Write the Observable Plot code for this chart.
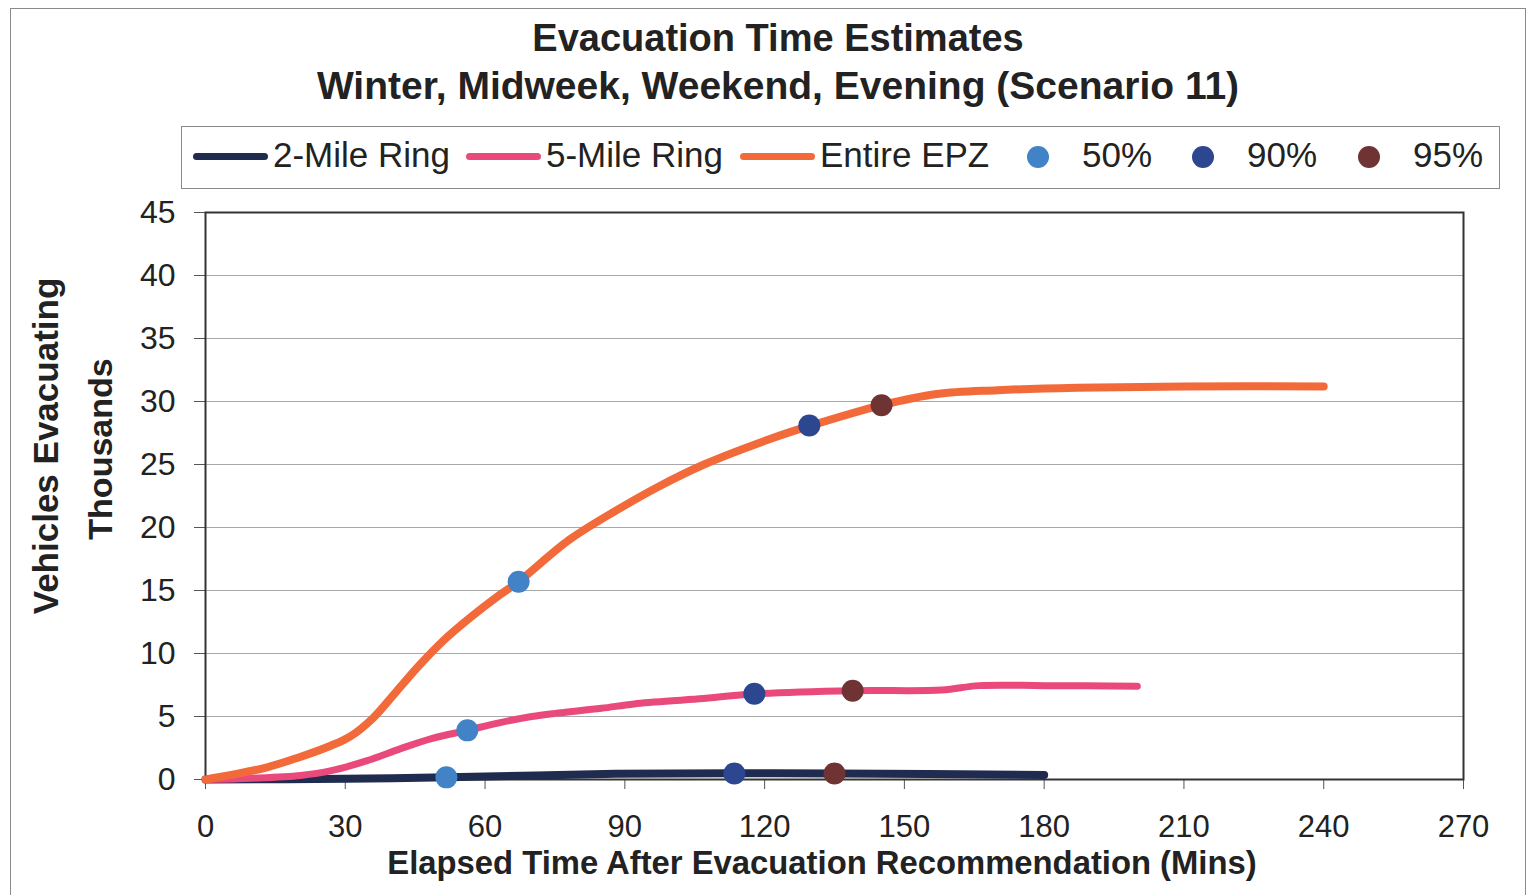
<!DOCTYPE html>
<html>
<head>
<meta charset="utf-8">
<script src="https://cdn.jsdelivr.net/npm/d3@7"></script>
<script src="https://cdn.jsdelivr.net/npm/@observablehq/plot@0.6"></script>
<style>
  html, body { margin: 0; padding: 0; background: #fff; }
  #wrap { position: relative; width: 1530px; height: 895px; overflow: hidden; font-family: "Liberation Sans", Arial, sans-serif; color: #222; }
  #outer { position: absolute; left: 10px; top: 8px; width: 1516px; height: 900px; border: 1px solid #8a8a8a; box-sizing: border-box; }
  #chart { position: absolute; left: 0; top: 0; }
  .title { position: absolute; left: 0; width: 1556px; text-align: center; font-weight: bold; color: #222; white-space: nowrap; }
  #legend { position: absolute; left: 181px; top: 126px; width: 1319px; height: 63px; border: 1px solid #8a8a8a; box-sizing: border-box; background: #fff; }
  .li { position: absolute; top: -3px; height: 61px; display: flex; align-items: center; font-size: 35px; color: #222; white-space: nowrap; }
  .sw { display: inline-block; width: 75px; height: 7px; border-radius: 4px; margin-right: 5px; margin-top: 4px; }
  .dot { display: inline-block; width: 22px; height: 22px; border-radius: 50%; margin-top: 4px; }
  .ylab { position: absolute; font-weight: bold; white-space: nowrap; transform: translate(-50%, -50%) rotate(-90deg); color: #222; }
  #xlab { position: absolute; left: 822px; top: 863px; transform: translate(-50%, -50%); font-weight: bold; font-size: 32.8px; white-space: nowrap; color: #222; }
</style>
</head>
<body>
<div id="wrap">
  <div id="outer"></div>
  <div id="chart"></div>
  <div class="title" style="top:17px; font-size:38px">Evacuation Time Estimates</div>
  <div class="title" style="top:64px; font-size:39px">Winter, Midweek, Weekend, Evening (Scenario 11)</div>
  <div id="legend"></div>
  <div class="ylab" style="left:46px; top:446px; font-size:35px">Vehicles Evacuating</div>
  <div class="ylab" style="left:100px; top:449px; font-size:34px">Thousands</div>
  <div id="xlab">Elapsed Time After Evacuation Recommendation (Mins)</div>
</div>
<script>
// ---- Data (minutes after recommendation, thousands of vehicles) ----
const timeRing2 = [0, 30, 52, 88, 113.5, 135, 180];
const vehRing2  = [0, 0.05, 0.17, 0.45, 0.5, 0.48, 0.35];

const timeRing5 = [0, 10, 20.4, 27, 34.7, 41.9, 48.5, 56.2, 63, 70, 75, 85, 92, 106, 118, 139, 158, 166, 180, 200];
const vehRing5  = [0, 0.1, 0.32, 0.7, 1.5, 2.45, 3.25, 3.9, 4.5, 5.0, 5.25, 5.65, 6.0, 6.4, 6.8, 7.05, 7.1, 7.45, 7.45, 7.4];

const timeEPZ = [0, 13, 20, 27, 31, 36, 41, 46, 51, 57, 62.6, 67.2, 78, 87, 97, 107, 121, 130, 145, 157, 170, 187, 210, 240];
const vehEPZ  = [0, 0.95, 1.75, 2.7, 3.4, 4.9, 7.0, 9.1, 11.0, 12.9, 14.5, 15.7, 19.0, 21.1, 23.2, 25.0, 27.0, 28.1, 29.7, 30.6, 30.9, 31.1, 31.2, 31.2];

const time50 = [51.7, 56.2, 67.2];
const veh50  = [0.17, 3.9, 15.7];
const time90 = [113.5, 117.8, 129.6];
const veh90  = [0.48, 6.8, 28.1];
const time95 = [135, 138.9, 145.1];
const veh95  = [0.48, 7.05, 29.7];

const xTicks = [0, 30, 60, 90, 120, 150, 180, 210, 240, 270];
const yTicks = [0, 5, 10, 15, 20, 25, 30, 35, 40, 45];

const seriesNames = ["2-Mile Ring", "5-Mile Ring", "Entire EPZ"];
const seriesColors = ["#1f2b4f", "#ea4a7b", "#f36a3a"];
const markerNames = ["50%", "90%", "95%"];
const markerColors = ["#4282c6", "#2c4690", "#6f3333"];

const pts = (ts, vs) => ts.map((t, i) => ({t, v: vs[i]}));

const lineOpts = (color, w) => ({x: "t", y: "v", stroke: color, strokeWidth: w, curve: "catmull-rom", strokeLinecap: "round", strokeLinejoin: "round"});

const chart = Plot.plot({
  width: 1530,
  height: 895,
  marginLeft: 205,
  marginRight: 67,
  marginTop: 212,
  marginBottom: 116,
  style: {fontFamily: "'Liberation Sans', Arial, sans-serif", fontSize: "32px", color: "#222", background: "transparent"},
  x: {domain: [0, 270], ticks: xTicks, label: null},
  y: {domain: [0, 45], ticks: yTicks, label: null},
  marks: [
    Plot.gridY(yTicks, {stroke: "#a8a8a8", strokeOpacity: 1, strokeWidth: 1}),
    Plot.axisY(yTicks, {tickSize: 11, tickPadding: 19, stroke: "#555", fill: "#222", fontSize: 32}),
    Plot.axisX(xTicks, {tickSize: 10, tickPadding: 25, stroke: "#555", fill: "#222", fontSize: 31}),
    Plot.frame({stroke: "#333", strokeWidth: 2}),
    Plot.line(pts(timeRing2, vehRing2), lineOpts(seriesColors[0], 8)),
    Plot.line(pts(timeRing5, vehRing5), lineOpts(seriesColors[1], 7)),
    Plot.line(pts(timeEPZ, vehEPZ), lineOpts(seriesColors[2], 8)),
    Plot.dot(pts(time50, veh50), {x: "t", y: "v", r: 11, fill: markerColors[0], stroke: "none"}),
    Plot.dot(pts(time90, veh90), {x: "t", y: "v", r: 11, fill: markerColors[1], stroke: "none"}),
    Plot.dot(pts(time95, veh95), {x: "t", y: "v", r: 11, fill: markerColors[2], stroke: "none"})
  ]
});
document.getElementById("chart").appendChild(chart);

// ---- Legend ----
const legend = document.getElementById("legend");
const lineLeft = [11, 284, 558];
seriesNames.forEach((name, i) => {
  const el = document.createElement("div");
  el.className = "li";
  el.style.left = lineLeft[i] + "px";
  el.innerHTML = `<span class="sw" style="background:${seriesColors[i]}"></span><span>${name}</span>`;
  legend.appendChild(el);
});
const dotLeft = [845, 1010, 1176];
markerNames.forEach((name, i) => {
  const el = document.createElement("div");
  el.className = "li";
  el.style.left = dotLeft[i] + "px";
  el.innerHTML = `<span class="dot" style="background:${markerColors[i]}"></span><span style="margin-left:33px">${name}</span>`;
  legend.appendChild(el);
});
</script>
</body>
</html>
